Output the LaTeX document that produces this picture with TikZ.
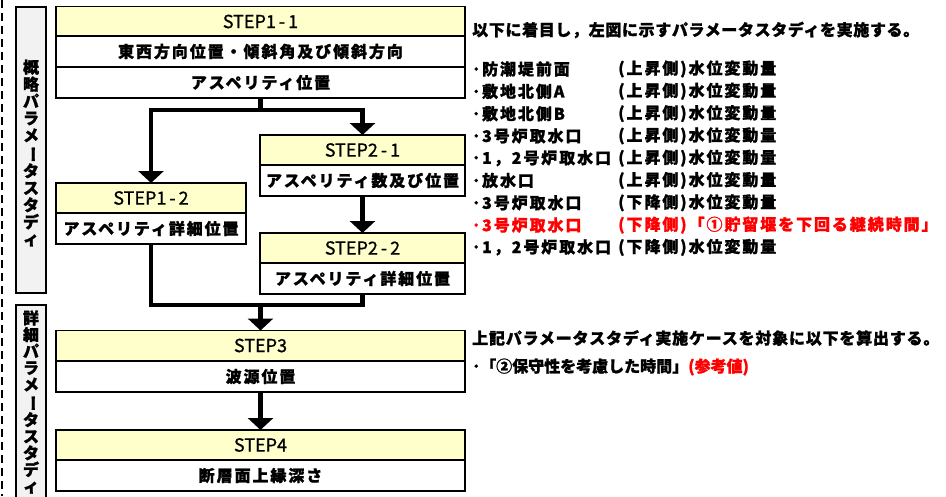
\documentclass[tikz,border=0pt]{standalone}
\usepackage{fontspec}
\usepackage{graphicx}
\setmainfont{Noto Sans CJK JP}[BoldFeatures={FakeBold=1.2}]
\newfontfamily\widejp{Noto Sans CJK JP}[LetterSpace=12, BoldFeatures={FakeBold=1.2}]
\newfontfamily\stepfont{Noto Sans CJK JP}[FakeBold=0.8]
\usetikzlibrary{arrows.meta}
\definecolor{stepyellow}{RGB}{255,255,204}
\definecolor{sidegray}{RGB}{242,242,242}
\definecolor{notered}{RGB}{255,0,0}
\newcommand\chouon{\rotatebox[origin=c]{-90}{ー}}

\begin{document}
\begin{tikzpicture}[
	x=1pt, y=-1pt,
	% Node styles
	stephead/.style={
		rectangle,
		draw=black,
		fill=stepyellow,
		line width=1.6pt,
		minimum width=#1,
		minimum height=30pt,
		inner sep=0pt,
		outer sep=0pt,
		font=\stepfont\fontsize{18}{18}\selectfont
	},
	steprow/.style={
		rectangle,
		draw=black,
		fill=white,
		line width=1.6pt,
		minimum width=#1,
		minimum height=31pt,
		inner sep=0pt,
		outer sep=0pt,
		font=\widejp\fontsize{16}{16}\selectfont\bfseries
	},
	sidebox/.style={
		rectangle,
		draw=black,
		fill=sidegray,
		line width=1.6pt,
		minimum width=30pt,
		inner sep=0pt
	},
	sidetext/.style={
		align=center,
		inner sep=0pt,
		font=\fontsize{16}{17}\selectfont\bfseries
	},
	flowline/.style={
		line width=4.5pt
	},
	arrow/.style={
		-{Triangle[width=25pt,length=12pt]},
		line width=4.5pt
	},
	note/.style={
		anchor=west,
		inner sep=0pt,
		font=\fontsize{16}{16}\selectfont\bfseries
	},
	listitem/.style={
		anchor=west,
		inner sep=0pt,
		font=\widejp\fontsize{16}{16}\selectfont\bfseries
	}
	]
	
	\useasboundingbox (0,0) rectangle (946,496);
	
	% Dashed frame line
	\draw[line width=2.5pt, dash pattern=on 8pt off 5pt] (2,0) -- (2,496);
	
	% Side labels
	\node[sidebox, minimum height=286pt] (side1) at (31,150) {};
	\node[sidetext] at (31,153) {概\\略\\パ\\ラ\\メ\\\chouon\\タ\\ス\\タ\\デ\\ィ};
	\node[sidebox, minimum height=200pt] (side2) at (31,405) {};
	\node[sidetext, font=\fontsize{16}{16.6}\selectfont\bfseries] at (31,402) {詳\\細\\パ\\ラ\\メ\\\chouon\\タ\\ス\\タ\\デ\\ィ};
	
	% STEP1-1
	\node[stephead=409pt] (s11h) at (260.5,21.5) {STEP1\,-\,1};
	\node[steprow=409pt] (s11a) at (260.5,51.5) {東西方向位置・傾斜角及び傾斜方向};
	\node[steprow=409pt] (s11b) at (260.5,82.5) {アスペリティ位置};
	
	% STEP2-1
	\node[stephead=205pt] (s21h) at (362.5,150) {STEP2\,-\,1};
	\node[steprow=205pt] (s21a) at (362.5,180.5) {アスペリティ数及び位置};
	
	% STEP1-2
	\node[stephead=190pt] (s12h) at (151,198) {STEP1\,-\,2};
	\node[steprow=190pt] (s12a) at (151,228.5) {アスペリティ詳細位置};
	
	% STEP2-2
	\node[stephead=205pt] (s22h) at (362.5,248) {STEP2\,-\,2};
	\node[steprow=205pt] (s22a) at (362.5,278.5) {アスペリティ詳細位置};
	
	% STEP3
	\node[stephead=409pt] (s3h) at (260.5,345.5) {STEP3};
	\node[steprow=409pt] (s3a) at (260.5,376.5) {波源位置};
	
	% STEP4
	\node[stephead=409pt] (s4h) at (260.5,445) {STEP4};
	\node[steprow=409pt] (s4a) at (260.5,475.5) {断層面上縁深さ};
	
	% Branch after STEP1-1
	\draw[flowline] (s11b.south) -- ++(0,12) coordinate (split);
	\draw[arrow] (split) -| (s12h.north);
	\draw[arrow] (split) -| (s21h.north);
	\draw[arrow] (s21a.south) -- (s22h.north);
	
	% Merge into STEP3
	\draw[flowline] (s12a.south) -- ++(0,61) coordinate (merge) -| (s22a.south);
	\draw[arrow] (merge -| s3h.north) -- (s3h.north);
	\draw[arrow] (s3a.south) -- (s4h.north);
	
	% Notes for the rough study
	\node[note] (intro) at (472,30) {\addfontfeature{LetterSpace=4}以下に着目し，左図に示すパラメータスタディを実施する。};
	\node[listitem] (p1) at (472,69) {･防潮堤前面};
	\node[listitem] (q1) at (618,69) {(上昇側)水位変動量};
	\node[listitem] (p2) at (472,91.3) {･敷地北側A};
	\node[listitem] (q2) at (618,91.3) {(上昇側)水位変動量};
	\node[listitem] (p3) at (472,113.6) {･敷地北側B};
	\node[listitem] (q3) at (618,113.6) {(上昇側)水位変動量};
	\node[listitem] (p4) at (472,135.9) {･3号炉取水口};
	\node[listitem] (q4) at (618,135.9) {(上昇側)水位変動量};
	\node[listitem] (p5) at (472,158.2) {･1，2号炉取水口};
	\node[listitem] (q5) at (618,158.2) {(上昇側)水位変動量};
	\node[listitem] (p6) at (472,180.5) {･放水口};
	\node[listitem] (q6) at (618,180.5) {(上昇側)水位変動量};
	\node[listitem] (p7) at (472,202.8) {･3号炉取水口};
	\node[listitem] (q7) at (618,202.8) {(下降側)水位変動量};
	\node[listitem, text=notered] (p8) at (472,225.1) {･3号炉取水口};
	\node[listitem, text=notered] (q8) at (618,225.1) {(下降側)「①貯留堰を下回る継続時間」};
	\node[listitem] (p9) at (472,247.4) {･1，2号炉取水口};
	\node[listitem] (q9) at (618,247.4) {(下降側)水位変動量};
	
	% Notes for the detailed study
	\node[note] (calc) at (472,338) {\addfontfeature{LetterSpace=5}上記パラメータスタディ実施ケースを対象に以下を算出する。};
	\node[note] (extra) at (472,367) {･「②保守性を考慮した時間」\textcolor{notered}{(参考値)}};
	
\end{tikzpicture}
\end{document}
